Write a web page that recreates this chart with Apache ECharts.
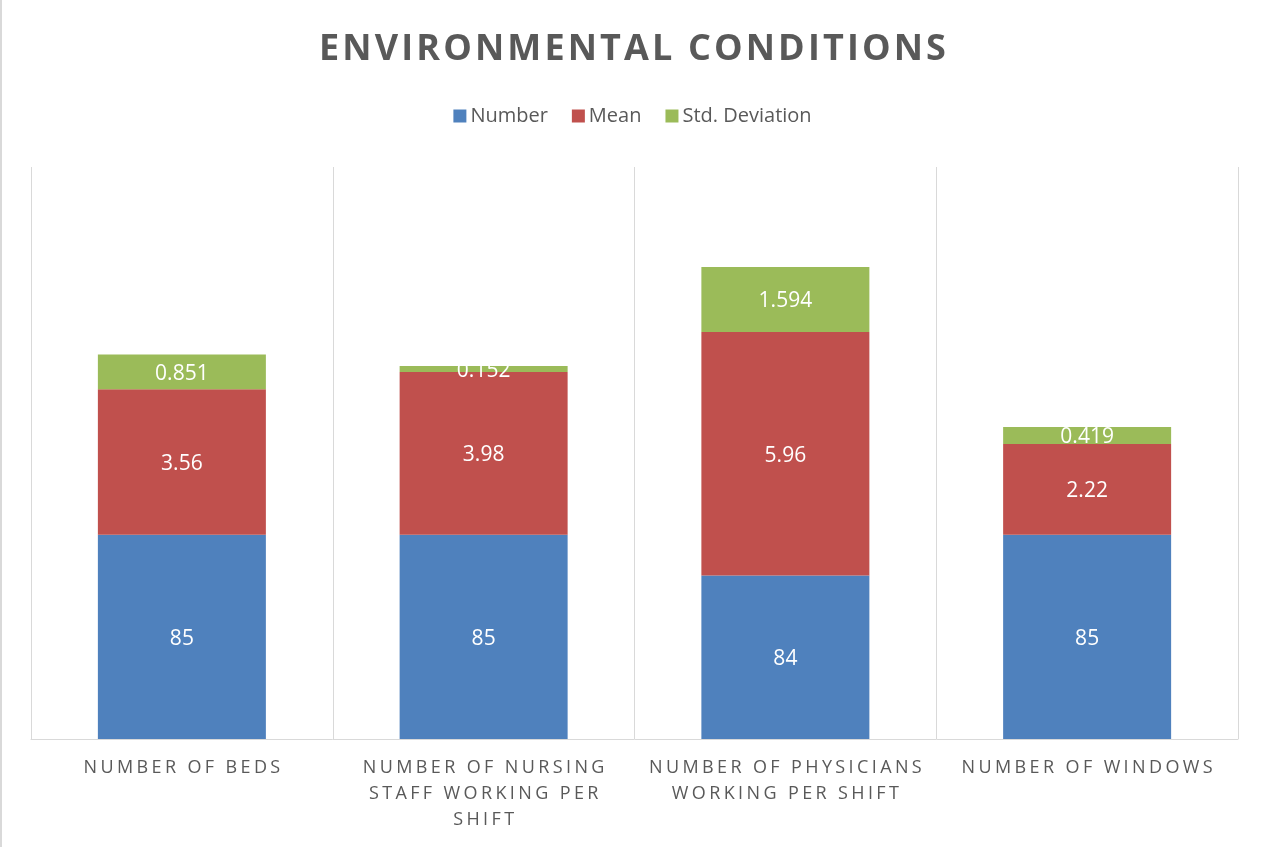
<!DOCTYPE html>
<html>
<head>
<meta charset="utf-8">
<script src="https://cdn.jsdelivr.net/npm/echarts@6/dist/echarts.min.js"></script>
<style>
  html, body { margin: 0; padding: 0; background: #fff; }
  #main { width: 1265px; height: 847px; }
  .edge { position: absolute; left: 0; top: 0; width: 2px; height: 847px; background: #d9d9d9; }
</style>
</head>
<body>
<div id="main"></div>
<div class="edge"></div>
<script>
const categories = ['NUMBER OF BEDS', 'NUMBER OF NURSING\nSTAFF WORKING PER\nSHIFT', 'NUMBER OF PHYSICIANS\nWORKING PER SHIFT', 'NUMBER OF WINDOWS']
const seriesNames = ['Number', 'Mean', 'Std. Deviation']
// bar heights as drawn in the picture
const numberHeights = [5, 5, 4, 5]
// data labels printed on the Number bars
const numberLabels = ['85', '85', '84', '85']
const meanValues = [3.56, 3.98, 5.96, 2.22]
const stdValues = [0.851, 0.152, 1.594, 0.419]
const colors = ['#4F81BD', '#C0504D', '#9BBB59']

// letter spacing: a small rich-text gap between the characters
const spaced = (s) => s.split('\n').map(l => l.split('').join('{g| }')).join('\n')

const myChart = echarts.init(document.getElementById('main'))
const font = '"Open Sans", "Noto Sans", sans-serif'

const labelStyle = {
  show: true,
  position: 'inside',
  offset: [0, 2],
  color: '#fff',
  fontSize: 21,
  fontFamily: font
}

const option = {
  animation: false,
  color: colors,
  title: {
    text: spaced('ENVIRONMENTAL CONDITIONS'),
    left: 'center',
    top: 27,
    textStyle: {
      color: '#595959',
      fontSize: 36,
      fontWeight: 'bold',
      fontFamily: font,
      rich: {
        g: { fontSize: 12, fontFamily: font }
      }
    }
  },
  legend: {
    top: 101,
    left: 'center',
    icon: 'rect',
    itemWidth: 13,
    itemHeight: 13,
    itemGap: 24,
    textStyle: {
      color: '#595959',
      fontSize: 20,
      fontFamily: font,
      padding: [0, 0, 0, -1]
    },
    data: seriesNames
  },
  grid: {
    left: 31,
    right: 27,
    top: 167,
    bottom: 108
  },
  xAxis: {
    type: 'category',
    data: categories,
    axisLine: { lineStyle: { color: '#d9d9d9', width: 1 } },
    axisTick: { show: false },
    splitLine: { show: true, lineStyle: { color: '#d9d9d9', width: 1 } },
    axisLabel: {
      interval: 0,
      margin: 16,
      color: '#595959',
      fontSize: 18,
      lineHeight: 26,
      fontFamily: font,
      formatter: (v) => spaced(v),
      rich: {
        g: { fontSize: 13, lineHeight: 26, fontFamily: font }
      }
    }
  },
  yAxis: {
    type: 'value',
    min: 0,
    max: 14,
    show: false,
    splitLine: { show: false }
  },
  series: [
    {
      name: seriesNames[0],
      type: 'bar',
      stack: 'total',
      barWidth: 168,
      data: numberHeights,
      label: Object.assign({}, labelStyle, {
        formatter: (p) => numberLabels[p.dataIndex]
      })
    },
    {
      name: seriesNames[1],
      type: 'bar',
      stack: 'total',
      barWidth: 168,
      data: meanValues,
      label: labelStyle
    },
    {
      name: seriesNames[2],
      type: 'bar',
      stack: 'total',
      barWidth: 168,
      data: stdValues,
      label: labelStyle
    }
  ]
}
myChart.setOption(option)
</script>
</body>
</html>
